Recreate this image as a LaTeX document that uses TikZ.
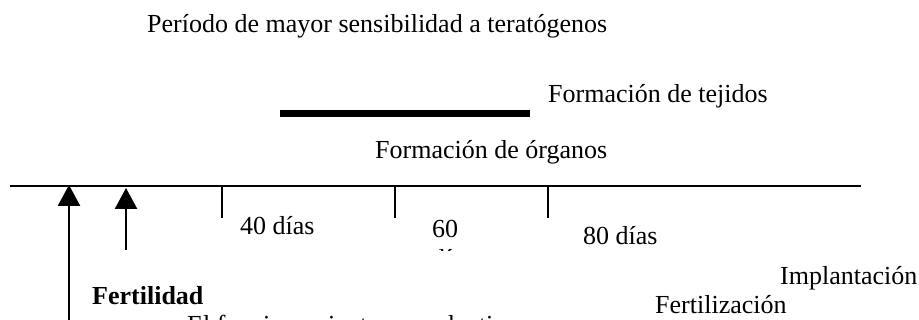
\documentclass[tikz,border=0pt]{standalone}
\usepackage{fontspec}
\setmainfont{Liberation Serif}
\usetikzlibrary{arrows.meta}
\begin{document}
\begin{tikzpicture}[x=1pt,y=-1pt,
  lbl/.style={anchor=base west,inner sep=0pt,font=\fontsize{26}{31}\selectfont},
  axis/.style={line width=2.6pt},
  up/.style={line width=2.6pt,-{Triangle[width=22pt,length=21pt]}}]
\useasboundingbox (0,0) rectangle (919,320);
\node[lbl] (title) at (147,33) {Período de mayor sensibilidad a teratógenos};
\draw[line width=7pt] (280,113.5) coordinate (b1) -- (530,113.5) coordinate (b2);
\node[lbl] (tej) at (548,103) {Formación de tejidos};
\node[lbl] (org) at (375,159) {Formación de órganos};
\draw[axis] (10,186) coordinate (a1) -- (861,186) coordinate (a2);
\draw[axis] (222,186) coordinate (t1) -- (222,218) coordinate (t1b);
\draw[axis] (395,186) coordinate (t2) -- (395,218) coordinate (t2b);
\draw[axis] (548,186) coordinate (t3) -- (548,218) coordinate (t3b);
\node[lbl] (d40) at (240,235) {40 días};
\node[lbl] (d60) at (432,238) {60};
\begin{scope}
\clip (420,240) rectangle (480,251);
\node[lbl] (d60b) at (432,268) {días};
\end{scope}
\node[lbl] (d80) at (583,245) {80 días};
\node[lbl] (impl) at (780,285) {Implantación};
\node[lbl] (fertz) at (655,314) {Fertilización};
\node[lbl,font=\fontsize{26}{31}\selectfont\bfseries] (fertd) at (92,305) {Fertilidad};
\node[lbl] (func) at (187,334) {El funcionamiento reproductivo};
\coordinate (p1) at (69,320);
\coordinate (q1) at (69,185);
\coordinate (p2) at (126,250);
\coordinate (q2) at (126,188);
\draw[up] (p1) -- (q1);
\draw[up] (p2) -- (q2);
\end{tikzpicture}
\end{document}
